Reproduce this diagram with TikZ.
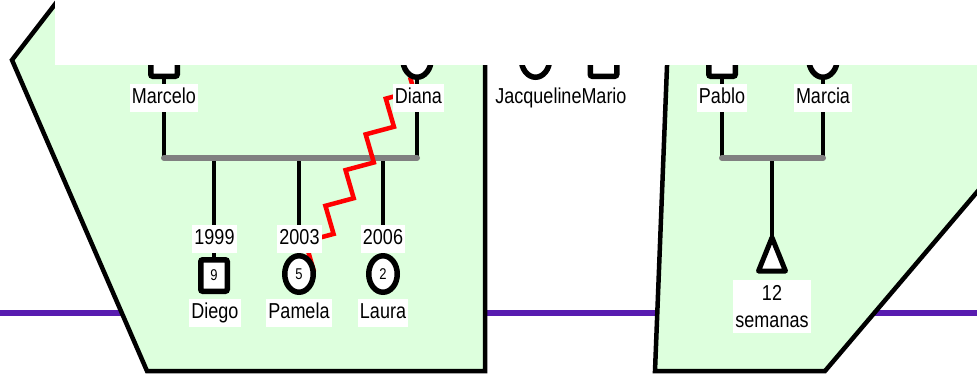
\documentclass[tikz,border=0pt]{standalone}
\usepackage{fontspec}
\setmainfont{Liberation Sans}
\usepackage{graphicx}
\usetikzlibrary{shapes.geometric,calc,decorations.pathmorphing}
\definecolor{famgreen}{RGB}{221,255,221}
\definecolor{linkpurple}{RGB}{88,28,176}
\newcommand{\nm}[1]{\scalebox{1}[1.2]{#1}}
\tikzstyle{family} = [draw=black, fill=famgreen, line width=4.5pt]
\tikzstyle{male} = [draw, rectangle, rounded corners=2pt, line width=5.5pt, fill=white, minimum width=26.5pt, minimum height=31.5pt, inner sep=0pt, font=\fontsize{13}{13}\selectfont]
\tikzstyle{female} = [draw, ellipse, line width=5.5pt, fill=white, minimum width=28.5pt, minimum height=36.5pt, inner sep=0pt, font=\fontsize{13}{13}\selectfont]
\tikzstyle{lossbox} = [draw, line width=5pt, fill=white, line join=round]
\tikzstyle{link} = [draw, line width=4.5pt]
\tikzstyle{wedline} = [draw, line width=6pt, gray, line cap=round]
\tikzstyle{cutoff} = [draw, red, line width=4.5pt, decorate, decoration={zigzag, segment length=41pt, amplitude=10.45pt}]
\tikzstyle{namebox} = [fill=white, anchor=base, inner xsep=2pt, inner ysep=0pt, text height=19.5pt, text depth=8.5pt, font=\fontsize{18}{27}\selectfont]
\tikzstyle{plainname} = [anchor=base, inner sep=0pt, font=\fontsize{18}{27}\selectfont]
\pgfdeclarelayer{background}
\pgfdeclarelayer{links}
\pgfdeclarelayer{foreground}
\pgfsetlayers{background,links,main,foreground}
\begin{document}
\begin{tikzpicture}[x=1pt, y=-1pt]
  \useasboundingbox (0,0) rectangle (977,373);
  \begin{pgfonlayer}{background}
    \draw[line width=6pt, linkpurple] (0,313) -- (977,313);
    \filldraw[family] (66,-10) -- (12,60) -- (147,371) -- (485,371) -- (485,-10) -- cycle;
    \filldraw[family] (670,-10) -- (655,371) -- (825,371) -- (1000,165) -- (1000,-10) -- cycle;
  \end{pgfonlayer}
  % persons
  \node[male] (marcelo) at (164,60.5) {};
  \node[female] (diana) at (417,59) {};
  \node[female] (jacqueline) at (535.5,59) {};
  \node[male] (mario) at (603.5,60.5) {};
  \node[male] (pablo) at (722,60.5) {};
  \node[female] (marcia) at (823,59) {};
  \node[male] (diego) at (214,275.5) {\nm{9}};
  \node[female] (pamela) at (299,274) {\nm{5}};
  \node[female] (laura) at (383,274) {\nm{2}};
  \coordinate (loss) at (772,237.5);
  \coordinate (wedA) at (290,158);
  \coordinate (wedB) at (772,158);
  \begin{pgfonlayer}{links}
    \draw[link] (marcelo) -- (marcelo |- wedA);
    \draw[link] (diana) -- (diana |- wedA);
    \foreach \kid in {diego,pamela,laura}
      \draw[link] (\kid |- wedA) -- (\kid);
    \draw[wedline] (marcelo |- wedA) -- (diana |- wedA);
    \draw[link] (pablo) -- (pablo |- wedB);
    \draw[link] (marcia) -- (marcia |- wedB);
    \draw[link] (wedB) -- (loss);
    \draw[wedline] (pablo |- wedB) -- (marcia |- wedB);
    \draw[cutoff] ($(diana.center)+(-7,18)$) -- (pamela.center);
  \end{pgfonlayer}
  \draw[lossbox] (loss) -- ++(-13.5,33.5) -- ++(27,0) -- cycle;
  % names and years
  \node[namebox] (lblmarcelo) at (164,103) {\nm{Marcelo}};
  \node[namebox] (lbldiana) at (418.5,103) {\nm{Diana}};
  \node[plainname] (lbljacqueline) at (538.5,103) {\nm{Jacqueline}};
  \node[plainname] (lblmario) at (604,103) {\nm{Mario}};
  \node[namebox] (lblpablo) at (722,103) {\nm{Pablo}};
  \node[namebox] (lblmarcia) at (823,103) {\nm{Marcia}};
  \node[namebox] (yeardiego) at (214.5,244) {\nm{1999}};
  \node[namebox] (yearpamela) at (299.5,244) {\nm{2003}};
  \node[namebox] (yearlaura) at (383,244) {\nm{2006}};
  \node[namebox] (lbldiego) at (215,318) {\nm{Diego}};
  \node[namebox] (lblpamela) at (299,318) {\nm{Pamela}};
  \node[namebox] (lbllaura) at (383,318) {\nm{Laura}};
  \node[fill=white, align=center, inner xsep=2.5pt, inner ysep=5pt, font=\fontsize{18}{27}\selectfont] (lblloss) at (772,306.5) {\nm{12}\\\nm{semanas}};
  \begin{pgfonlayer}{foreground}
    \fill[white] (55,-10) rectangle (990,65);
  \end{pgfonlayer}
\end{tikzpicture}
\end{document}
